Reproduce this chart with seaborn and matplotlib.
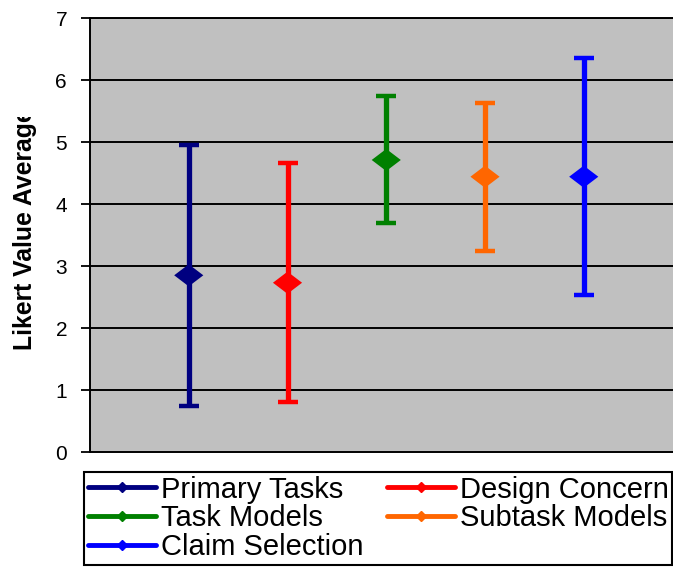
import matplotlib
matplotlib.use("Agg")
import matplotlib.pyplot as plt
from matplotlib.lines import Line2D
from matplotlib.transforms import Bbox, TransformedBbox
import numpy as np
import pandas as pd
import seaborn as sns

# values
categories = ["Primary Tasks", "Design Concern", "Task Models",
              "Subtask Models", "Claim Selection"]
means = [2.85, 2.73, 4.71, 4.44, 4.44]
lows = [0.74, 0.81, 3.69, 3.24, 2.53]
highs = [4.95, 4.66, 5.74, 5.63, 6.35]
colors = ["#000080", "#FF0000", "#008000", "#FF6600", "#0000FF"]
y_ticks = [0, 1, 2, 3, 4, 5, 6, 7]

sns.set_theme(style="ticks")
plt.rcParams["font.family"] = ["Liberation Sans", "DejaVu Sans"]
plt.rcParams["text.color"] = "black"

df = pd.DataFrame({"category": categories, "mean": means,
                   "low": lows, "high": highs})
df["pos"] = np.arange(1, len(df) + 1)
palette = dict(zip(categories, colors))

# Excel-like diamond: a bit wider than tall
diamond = [(-1, 0), (0, 0.76), (1, 0), (0, -0.76), (-1, 0)]

W, H = 673, 567
fig = plt.figure(figsize=(W / 100, H / 100), dpi=100)
fig.patch.set_facecolor("white")
ax = fig.add_axes([90 / W, 1 - 452 / H, 592.5 / W, 434 / H])
ax.set_facecolor("#C0C0C0")

for y in y_ticks[1:]:
    ax.axhline(y, color="black", lw=1.4, zorder=1)

for _, r in df.iterrows():
    ax.errorbar(r["pos"], r["mean"],
                yerr=[[r["mean"] - r["low"]], [r["high"] - r["mean"]]],
                fmt="none", ecolor=palette[r["category"]], elinewidth=3.8,
                capsize=7.2, capthick=3.2, zorder=2)

sns.scatterplot(data=df, x="pos", y="mean", hue="category", palette=palette,
                marker=diamond, s=440, linewidth=0, legend=False, zorder=3,
                ax=ax)

ax.set_xlim(0, 6)
ax.set_ylim(0, 7)
ax.set_yticks(y_ticks)
ax.set_xticks([])
ax.set_xlabel("")
ax.set_ylabel("")
ax.tick_params(axis="y", length=6.5, width=1.3, pad=10, labelsize=15,
               colors="black", direction="out")
for side in ("left", "bottom", "top"):
    ax.spines[side].set_color("black")
    ax.spines[side].set_linewidth(1.4)
ax.spines["right"].set_visible(False)

# y label, cut at the top like the original
t = fig.text(25 / W, 1 - 350 / H, "Likert Value Average", rotation=90,
             ha="center", va="bottom", fontsize=17.8, fontweight="bold",
             color="black")
t.set_clip_on(True)
t.set_clip_box(TransformedBbox(Bbox([[0, 0], [1, 1 - 117 / H]]),
                               fig.transFigure))

# legend, row-major order like the original
order = [0, 2, 4, 1, 3]
handles = [Line2D([], [], color=colors[i], lw=3.5, marker="D", ms=5.5)
           for i in order]
labels = [categories[i] for i in order]
leg = fig.legend(handles, labels, ncol=2, loc="upper left",
                 bbox_to_anchor=(84 / W, 1 - 472 / H), borderaxespad=0,
                 fontsize=21, frameon=True, fancybox=False, edgecolor="black",
                 framealpha=1, labelspacing=0.03, handlelength=2.34,
                 handletextpad=0.17, columnspacing=0.8, borderpad=0.12,
                 labelcolor="black")
leg.get_frame().set_linewidth(1.5)

fig.savefig("out.png", dpi=100, facecolor="white")
